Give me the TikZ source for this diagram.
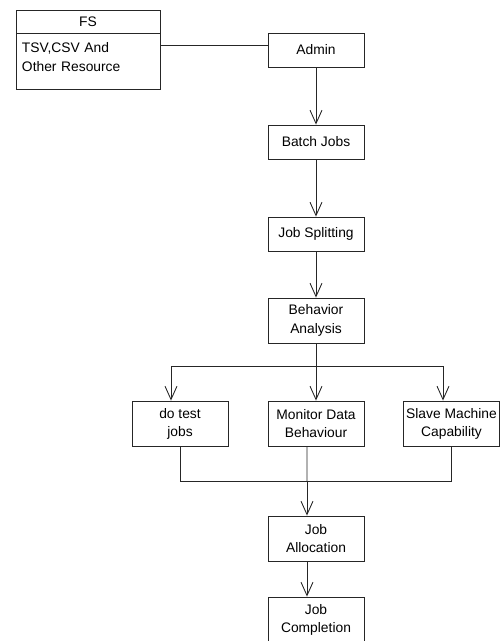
\documentclass[tikz,border=0pt]{standalone}
\usepackage{fontspec}
\setmainfont{Liberation Sans}
\usetikzlibrary{arrows.meta,positioning}

\tikzset{
  box/.style={draw=black!85, rectangle, line width=0.75pt, minimum width=2.88cm,
    minimum height=1.02cm, inner xsep=2pt, align=center,
    font=\fontsize{11.8}{15.5}\selectfont},
  tallbox/.style={box, minimum height=1.35cm},
  link/.style={draw=black!85, line width=0.8pt},
  flow/.style={link, -{Straight Barb[length=4mm,width=3.6mm,line width=0.75pt]}},
}

\begin{document}
\begin{tikzpicture}[x=0.03cm, y=-0.03cm]
\useasboundingbox (0,0) rectangle (500,641);

% resource store
\node[box, minimum width=4.32cm, minimum height=0.69cm, inner sep=0pt] (fs) at (88,21.5) {FS};
\node[box, anchor=north, minimum width=4.32cm, minimum height=1.68cm, text width=3.96cm,
      align=left, inner xsep=0.18cm, inner ysep=0pt, text height=0.3cm, text depth=0.84cm]
      (fsres) at (fs.south) {TSV,CSV And\\Other Resource};

% main chain
\node[box] (admin) at (316,50) {Admin};
\node[box] (batch) at (316,142) {Batch Jobs};
\node[box] (split) at (316,234) {Job Splitting};
\node[tallbox] (behav) at (316,320.5) {Behavior\\Analysis};
\node[tallbox] (dotest) at (180,423.5) {do test\\jobs};
\node[tallbox] (monitor) at (316,423.5) {Monitor Data\\Behaviour};
\node[tallbox] (slave) at (451.5,423.5) {Slave Machine\\Capability};
\node[tallbox] (alloc) at (316,538.5) {Job\\Allocation};
\node[tallbox] (done) at (316,619.5) {Job\\Completion};

\coordinate (fork) at (316,366.5);
\coordinate (join) at (307,481.5);

\draw[link] ([yshift=0.15cm]admin.west) -- ([yshift=0.15cm]admin.west -| fsres.east);
\draw[flow] (admin) -- (batch);
\draw[flow] (batch) -- (split);
\draw[flow] (split) -- (behav);

\draw[link] (behav) -- (fork);
\draw[flow] (fork) -| ([xshift=-0.27cm]dotest.north);
\draw[flow] (fork) -| ([xshift=-0.255cm]slave.north);
\draw[flow] (fork) -- (monitor);

\draw[link] (dotest.south) |- (join);
\draw[link] (slave.south) |- (join);
\draw[link] ([xshift=-0.27cm]monitor.south) -- (join);
\draw[flow] (join) -- (join |- alloc.north);
\draw[flow] (join |- alloc.south) -- (join |- done.north);
\end{tikzpicture}
\end{document}
